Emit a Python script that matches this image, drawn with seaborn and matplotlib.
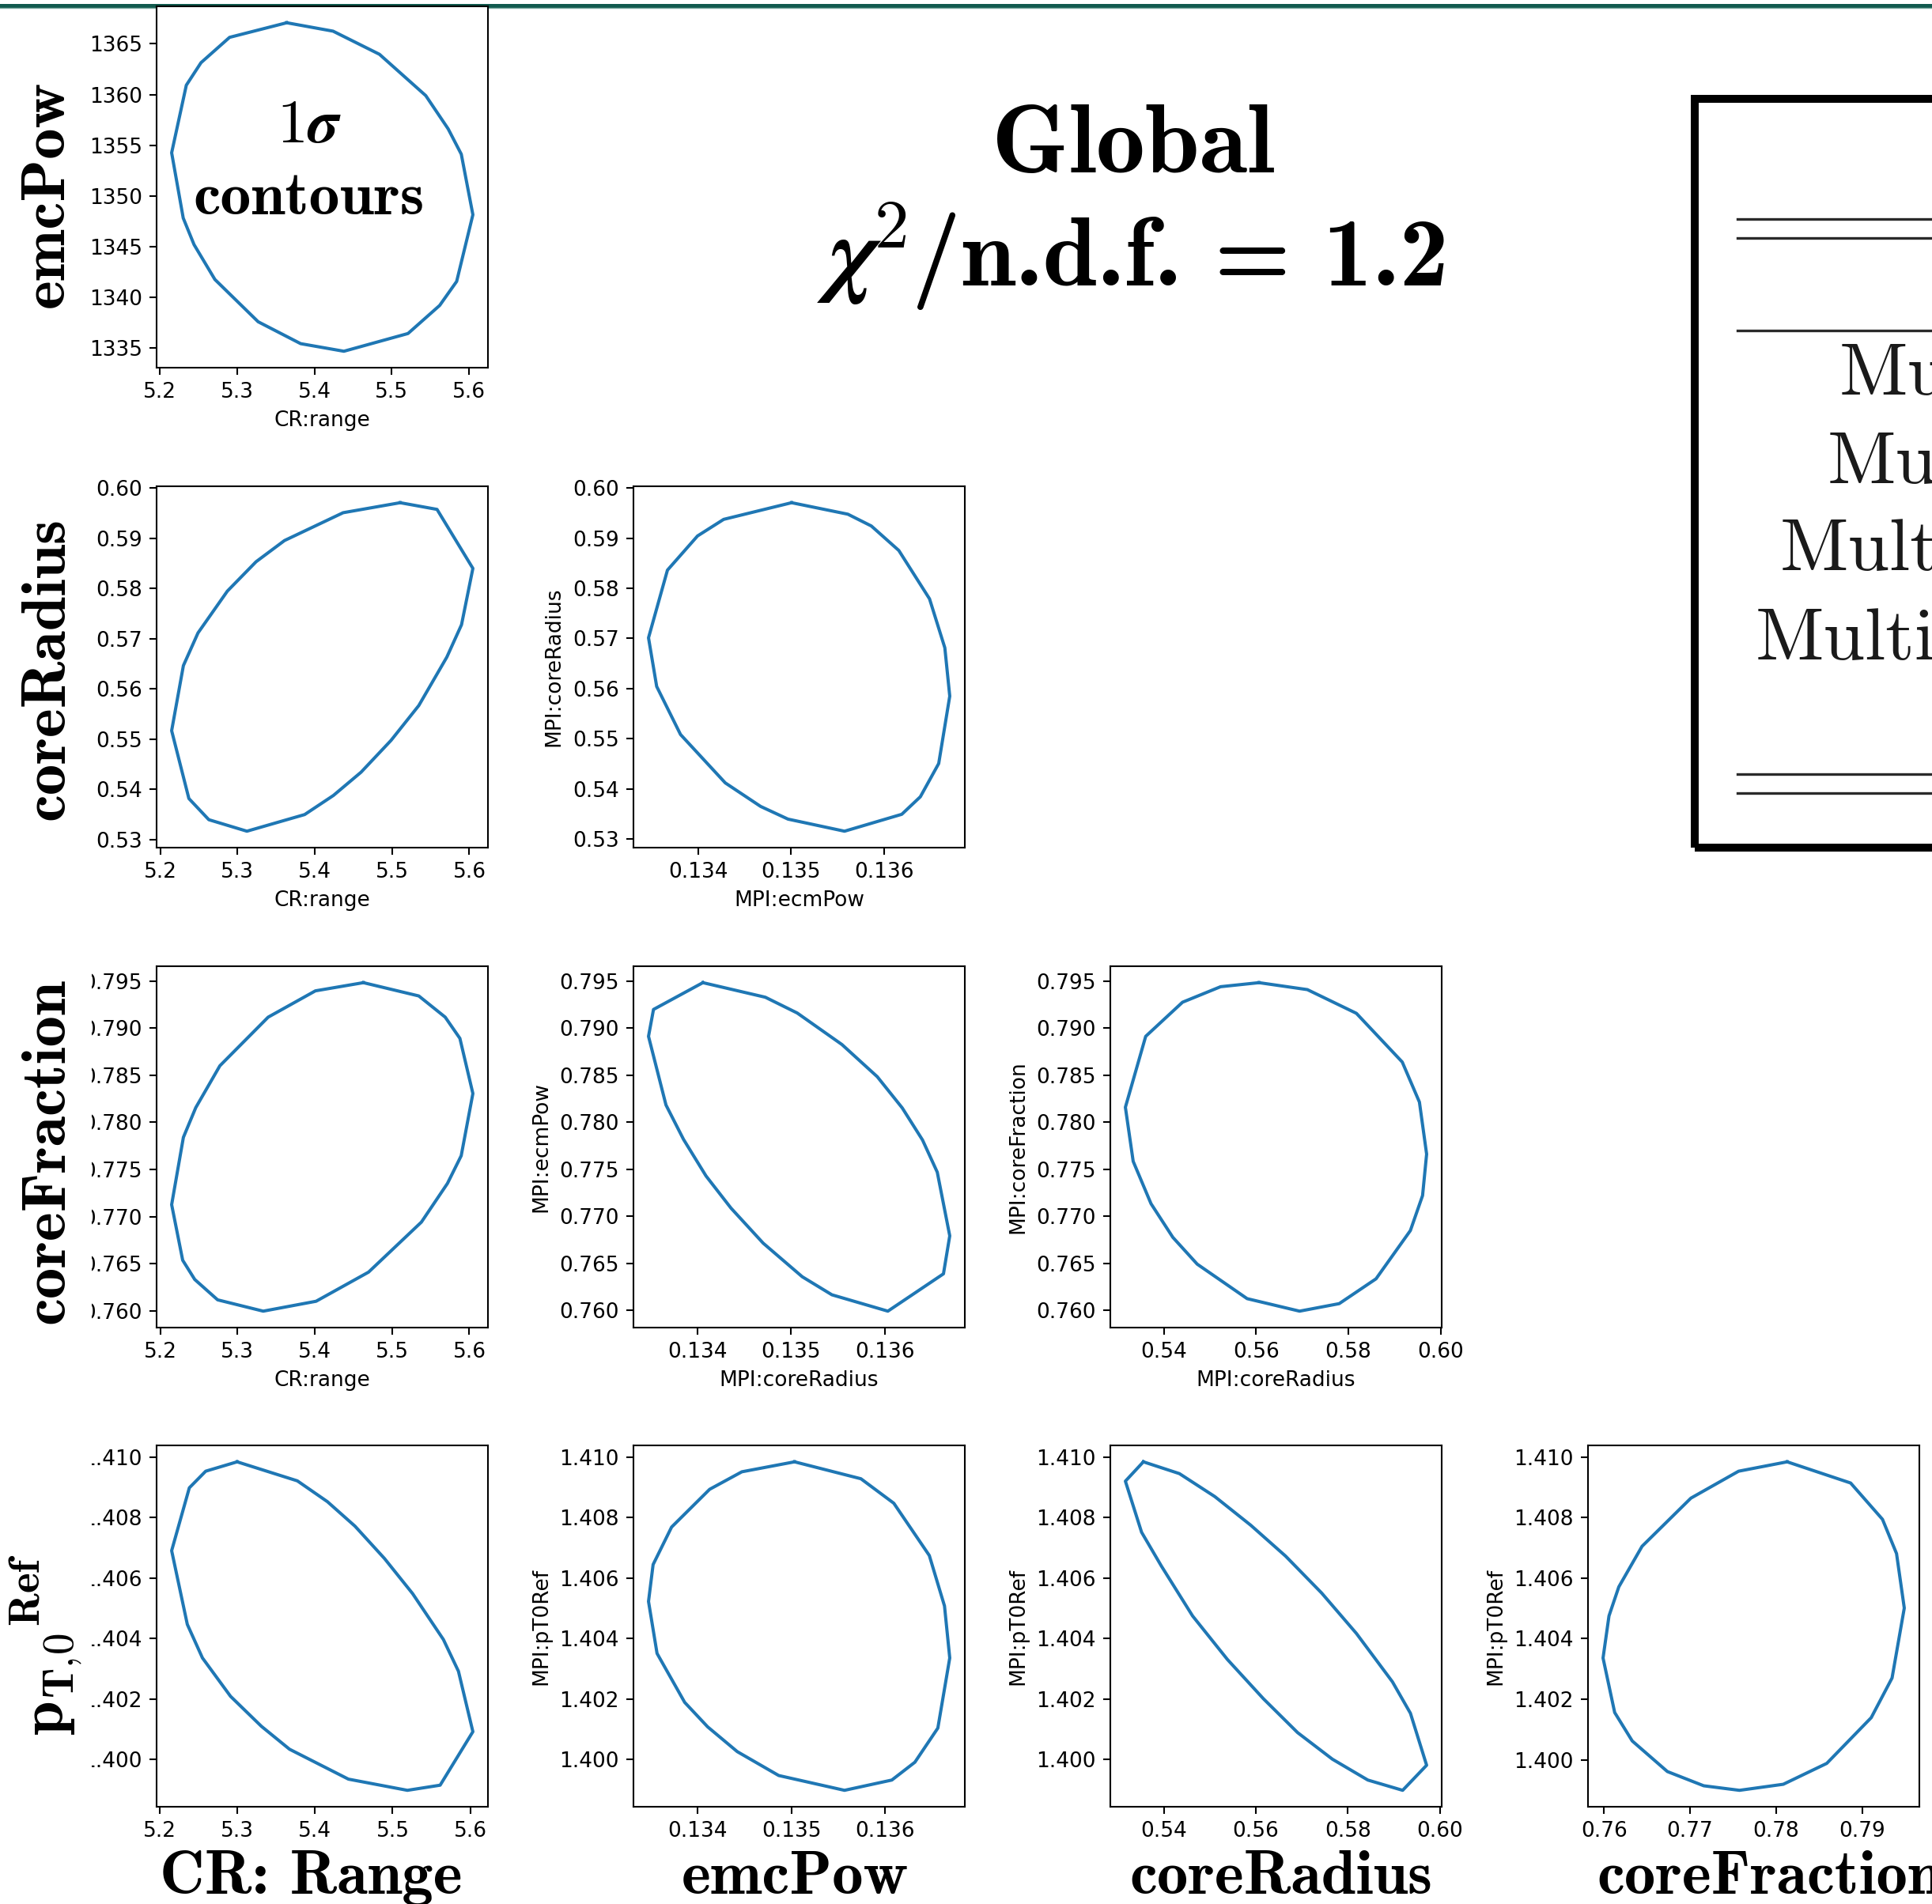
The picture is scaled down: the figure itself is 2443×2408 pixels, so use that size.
import numpy as np
import matplotlib
matplotlib.use("Agg")
import matplotlib.pyplot as plt
import seaborn as sns
from matplotlib.patches import Rectangle
from matplotlib.lines import Line2D
import matplotlib.mathtext as mt

# ---------------- data (1 sigma contour vertices) ----------------
# emcPow vs CR:range
a_x = [5.364, 5.424, 5.484, 5.544, 5.573, 5.590, 5.605, 5.584, 5.562, 5.521, 5.438, 5.382, 5.327, 5.271, 5.244, 5.230, 5.215, 5.234, 5.253, 5.290]
a_y = [1367.08, 1366.25, 1363.97, 1359.89, 1356.61, 1354.11, 1348.14, 1341.56, 1339.19, 1336.42, 1334.67, 1335.42, 1337.58, 1341.75, 1345.19, 1347.81, 1354.25, 1360.92, 1363.14, 1365.64]
# coreRadius vs CR:range
b_x = [5.5105, 5.5582, 5.6046, 5.5899, 5.5709, 5.5346, 5.4987, 5.4599, 5.4241, 5.3869, 5.3122, 5.2629, 5.2371, 5.2148, 5.2300, 5.2489, 5.2869, 5.3240, 5.3608, 5.4367]
b_y = [0.59705, 0.59572, 0.58398, 0.57277, 0.56633, 0.55669, 0.54976, 0.54343, 0.53880, 0.53500, 0.53169, 0.53398, 0.53819, 0.55169, 0.56464, 0.57114, 0.57946, 0.58530, 0.58952, 0.59506]
# coreRadius vs ecmPow
c_x = [0.135007, 0.135613, 0.135866, 0.136162, 0.136493, 0.136658, 0.136711, 0.136592, 0.136394, 0.136194, 0.135577, 0.134968, 0.134673, 0.134292, 0.133810, 0.133553, 0.133465, 0.133669, 0.133993, 0.134275]
c_y = [0.59705, 0.59476, 0.59241, 0.58753, 0.57789, 0.56813, 0.55849, 0.54506, 0.53843, 0.53494, 0.53157, 0.53398, 0.53651, 0.54120, 0.55084, 0.56042, 0.57012, 0.58361, 0.59042, 0.59373]
# coreFraction vs CR:range
d_x = [5.4629, 5.5346, 5.5688, 5.5878, 5.6046, 5.5895, 5.5717, 5.5380, 5.4696, 5.4017, 5.3333, 5.2743, 5.2447, 5.2291, 5.2148, 5.2300, 5.2460, 5.2772, 5.3397, 5.4008]
d_y = [0.79482, 0.79341, 0.79116, 0.78891, 0.78306, 0.77646, 0.77352, 0.76942, 0.76411, 0.76102, 0.75997, 0.76117, 0.76333, 0.76537, 0.77127, 0.77841, 0.78156, 0.78600, 0.79116, 0.79395]
# coreFraction vs ecmPow
e_x = [0.134060, 0.134725, 0.135065, 0.135541, 0.135917, 0.136183, 0.136399, 0.136556, 0.136689, 0.136622, 0.136030, 0.135434, 0.135118, 0.134702, 0.134359, 0.134093, 0.133854, 0.133667, 0.133481, 0.133534]
e_y = [0.79484, 0.79329, 0.79161, 0.78826, 0.78484, 0.78152, 0.77811, 0.77469, 0.76792, 0.76388, 0.75991, 0.76165, 0.76357, 0.76714, 0.77087, 0.77429, 0.77817, 0.78183, 0.78913, 0.79199]
# coreFraction vs coreRadius
f_x = [0.56063, 0.57111, 0.58173, 0.59167, 0.59539, 0.59695, 0.59607, 0.59343, 0.58599, 0.57801, 0.56942, 0.55806, 0.54724, 0.54196, 0.53723, 0.53337, 0.53168, 0.53608, 0.54406, 0.55231]
f_y = [0.79484, 0.79410, 0.79158, 0.78640, 0.78214, 0.77661, 0.77220, 0.76848, 0.76335, 0.76071, 0.75991, 0.76124, 0.76491, 0.76776, 0.77134, 0.77584, 0.78159, 0.78913, 0.79276, 0.79441]
# pT0Ref vs CR:range
g_x = [5.2996, 5.3772, 5.4160, 5.4515, 5.4895, 5.5257, 5.5654, 5.5848, 5.6034, 5.5612, 5.5190, 5.4430, 5.3671, 5.3308, 5.2911, 5.2549, 5.2354, 5.2152, 5.2380, 5.2591]
g_y = [1.40985, 1.40922, 1.40853, 1.40772, 1.40665, 1.40549, 1.40397, 1.40292, 1.40092, 1.39915, 1.39898, 1.39935, 1.40034, 1.40110, 1.40209, 1.40336, 1.40447, 1.40691, 1.40899, 1.40954]
# pT0Ref vs ecmPow
h_x = [0.135032, 0.135740, 0.136091, 0.136470, 0.136632, 0.136688, 0.136561, 0.136316, 0.136070, 0.135565, 0.134863, 0.134421, 0.134105, 0.133860, 0.133565, 0.133474, 0.133523, 0.133720, 0.134126, 0.134470]
h_y = [1.40985, 1.40929, 1.40848, 1.40675, 1.40508, 1.40336, 1.40104, 1.39991, 1.39932, 1.39898, 1.39947, 1.40026, 1.40108, 1.40189, 1.40351, 1.40523, 1.40645, 1.40769, 1.40894, 1.40952]
# pT0Ref vs coreRadius
i_x = [0.53556, 0.54339, 0.55109, 0.55892, 0.56648, 0.57431, 0.58188, 0.58971, 0.59362, 0.59714, 0.59193, 0.58436, 0.57666, 0.56909, 0.56166, 0.55383, 0.54626, 0.53948, 0.53517, 0.53165]
i_y = [1.40985, 1.40946, 1.40870, 1.40775, 1.40673, 1.40551, 1.40417, 1.40257, 1.40153, 1.39981, 1.39898, 1.39932, 1.40001, 1.40089, 1.40201, 1.40331, 1.40475, 1.40640, 1.40752, 1.40921]
# pT0Ref vs coreFraction
j_x = [0.78128, 0.78865, 0.79235, 0.79398, 0.79488, 0.79346, 0.79104, 0.78588, 0.78083, 0.77574, 0.77159, 0.76737, 0.76329, 0.76125, 0.75990, 0.76059, 0.76173, 0.76443, 0.77010, 0.77564]
j_y = [1.40984, 1.40914, 1.40794, 1.40681, 1.40501, 1.40270, 1.40139, 1.39988, 1.39919, 1.39899, 1.39914, 1.39961, 1.40062, 1.40156, 1.40336, 1.40475, 1.40571, 1.40705, 1.40864, 1.40953]

# tick values
cr_ticks = [5.2, 5.3, 5.4, 5.5, 5.6]
emc_abs_ticks = [1335, 1340, 1345, 1350, 1355, 1360, 1365]
radius_ticks = [0.53, 0.54, 0.55, 0.56, 0.57, 0.58, 0.59, 0.60]
ecm_ticks = [0.134, 0.135, 0.136]
frac_ticks = [0.760, 0.765, 0.770, 0.775, 0.780, 0.785, 0.790, 0.795]
radius_x_ticks = [0.54, 0.56, 0.58, 0.60]
pt0_ticks = [1.400, 1.402, 1.404, 1.406, 1.408, 1.410]
frac_x_ticks = [0.76, 0.77, 0.78, 0.79]

# labels
row_labels = ["emcPow", "coreRadius", "coreFraction",
              r"${\mathbf{p}_{\mathbf{T,\!0}}}^{\mathbf{Ref}}$"]
col_labels = ["CR: Range", "emcPow", "coreRadius", "coreFraction"]
title_line1 = "Global"
title_chi = r"$\boldsymbol{\chi}^{\mathbf{2}}$"
title_chi_fb = r"$\chi^{\mathbf{2}}$"
title_rest = "/n.d.f. = 1.2"
sigma_line1 = r"$\mathbf{1}\boldsymbol{\sigma}$"
sigma_line1_fb = r"$\mathbf{1}\sigma$"
sigma_line2 = "contours"
table_rows = ["MultipartonInteractions:pT0Ref", "MultipartonInteractions:ecmPow",
              "MultipartonInteractions:coreRadius", "MultipartonInteractions:coreFraction"]

# ---------------- style ----------------
plt.rcParams.update({
    "mathtext.fontset": "cm",
    "font.size": 19, "xtick.labelsize": 19, "ytick.labelsize": 19, "axes.labelsize": 19,
    "axes.linewidth": 1.5,
    "xtick.major.size": 6.5, "ytick.major.size": 6.5,
    "xtick.major.width": 1.5, "ytick.major.width": 1.5,
    "xtick.major.pad": 6.5, "ytick.major.pad": 6.5,
    "axes.labelpad": 7.5,
})

W, H = 2443, 2408
fig = plt.figure(figsize=(W / 100, H / 100), dpi=100)
fig.patch.set_facecolor("white")

col_left = [198, 801, 1404, 2008]
row_top = [8, 615, 1222, 1828]
aw, ah = 419, 457
LINE_C = "#1f77b4"


def add_ax(r, c):
    return fig.add_axes([col_left[c] / W, 1 - (row_top[r] + ah) / H, aw / W, ah / H])


panels = [
    (0, 0, a_x, a_y, cr_ticks, emc_abs_ticks, "CR:range", ""),
    (1, 0, b_x, b_y, cr_ticks, radius_ticks, "CR:range", ""),
    (1, 1, c_x, c_y, ecm_ticks, radius_ticks, "MPI:ecmPow", "MPI:coreRadius"),
    (2, 0, d_x, d_y, cr_ticks, frac_ticks, "CR:range", ""),
    (2, 1, e_x, e_y, ecm_ticks, frac_ticks, "MPI:coreRadius", "MPI:ecmPow"),
    (2, 2, f_x, f_y, radius_x_ticks, frac_ticks, "MPI:coreRadius", "MPI:coreFraction"),
    (3, 0, g_x, g_y, cr_ticks, pt0_ticks, "", ""),
    (3, 1, h_x, h_y, ecm_ticks, pt0_ticks, "", "MPI:pT0Ref"),
    (3, 2, i_x, i_y, radius_x_ticks, pt0_ticks, "", "MPI:pT0Ref"),
    (3, 3, j_x, j_y, frac_x_ticks, pt0_ticks, "", "MPI:pT0Ref"),
]

for r, c, xs, ys, xt, yt, xl, yl in panels:
    ax = add_ax(r, c)
    xx = np.append(np.asarray(xs), xs[0])
    yy = np.append(np.asarray(ys), ys[0])
    sns.lineplot(x=xx, y=yy, sort=False, estimator=None, ax=ax, color=LINE_C, linewidth=2.9)
    ax.set_xticks(xt)
    ax.set_yticks(yt)
    ax.ticklabel_format(useOffset=False, style="plain")
    ax.set_xlabel(xl)
    ax.set_ylabel(yl)
    for s in ax.spines.values():
        s.set_color("black")

# crop of the left tick labels (the original panels were cropped there)
fig.add_artist(Rectangle((0, 0), 116 / W, 1 - 1180 / H, transform=fig.transFigure,
                         facecolor="white", edgecolor="none", zorder=1))

# teal rule at the top
fig.add_artist(Line2D([0, 1], [1 - 6.5 / H] * 2, transform=fig.transFigure, color="#115a4e", lw=3.6, zorder=-1))
fig.add_artist(Line2D([0, 1], [1 - 10 / H] * 2, transform=fig.transFigure, color="#7aa89f", lw=1.0, zorder=-1))


def ok(s):
    try:
        mt.MathTextParser("path").parse(s, dpi=72)
        return True
    except Exception:
        return False


renderer = fig.canvas.get_renderer()


def ext(t):
    return t.get_window_extent(renderer)


def fit(t, target, vertical=False):
    bb = ext(t)
    cur = bb.height if vertical else bb.width
    t.set_fontsize(t.get_fontsize() * target / cur)
    return t.get_fontsize()


BIGFONT = "cmb10"
# big column labels
bx = [393, 1005, 1620, 2019]
col_txt = []
for k, lab in enumerate(col_labels):
    ha = "left" if k == 3 else "center"
    t = fig.text(bx[k] / W, 1 - 2395 / H, lab, family=BIGFONT, fontsize=48, ha=ha, va="baseline", zorder=3)
    col_txt.append(t)
big_size = fit(col_txt[2], 383)
for t in col_txt:
    t.set_fontsize(big_size)

# big row labels
ry = [245, 845, 1456, 2080]
for k, lab in enumerate(row_labels):
    kw = {} if lab.startswith("$") else dict(family=BIGFONT)
    fig.text(80 / W, 1 - ry[k] / H, lab, fontsize=big_size, rotation=90, rotation_mode="anchor",
             ha="center", va="baseline", zorder=3, **kw)

# title
chi_s = title_chi if ok(title_chi) else title_chi_fb
yb2 = 1 - 361 / H
t_chi = fig.text(0, yb2, chi_s, fontsize=78, ha="left", va="baseline", zorder=3)
t_rest = fig.text(0, yb2, title_rest, family=BIGFONT, fontsize=78, ha="left", va="baseline", zorder=3)
w1, w2 = ext(t_chi).width, ext(t_rest).width
sc = 800 / (w1 + w2 + 6)
fs_title = 78 * sc
t_chi.set_fontsize(fs_title)
t_rest.set_fontsize(fs_title)
w1 *= sc
w2 *= sc
x0 = 1433 - (w1 + w2 + 6) / 2
t_chi.set_x(x0 / W)
t_rest.set_x((x0 + w1 + 6) / W)
t1 = fig.text(1433 / W, 1 - 218 / H, title_line1, family=BIGFONT, fontsize=fs_title,
              ha="center", va="baseline", zorder=3)
fit(t1, 357)

# 1 sigma contours
s1s = sigma_line1 if ok(sigma_line1) else sigma_line1_fb
s1 = fig.text(391 / W, 1 - 180 / H, s1s, fontsize=50, ha="center", va="baseline", zorder=3)
s2 = fig.text(391 / W, 1 - 271 / H, sigma_line2, family=BIGFONT, fontsize=50, ha="center", va="baseline", zorder=3)
ss = fit(s2, 292)
s1.set_fontsize(ss)

# table box on the right (cut by the figure edge)
fig.add_artist(Rectangle((2143 / W, 1 - 1072 / H), (2700 - 2143) / W, (1072 - 125) / H,
                         transform=fig.transFigure, fill=False, edgecolor="black", lw=7.2, zorder=2))
for yl_ in [277, 301, 418, 979, 1003]:
    fig.add_artist(Line2D([2197 / W, 1.0], [1 - yl_ / H] * 2, transform=fig.transFigure,
                          color="#2a2a2a", lw=2.4, zorder=2))
tx = [2326, 2311, 2251, 2220]
tyb = [499, 611, 721, 834]
for k, s in enumerate(table_rows):
    fig.text(tx[k] / W, 1 - tyb[k] / H, s, family="cmr10", fontsize=68, ha="left", va="baseline",
             color="#1a1a1a", zorder=3)

fig.savefig("out.png", dpi=100, facecolor="white")
